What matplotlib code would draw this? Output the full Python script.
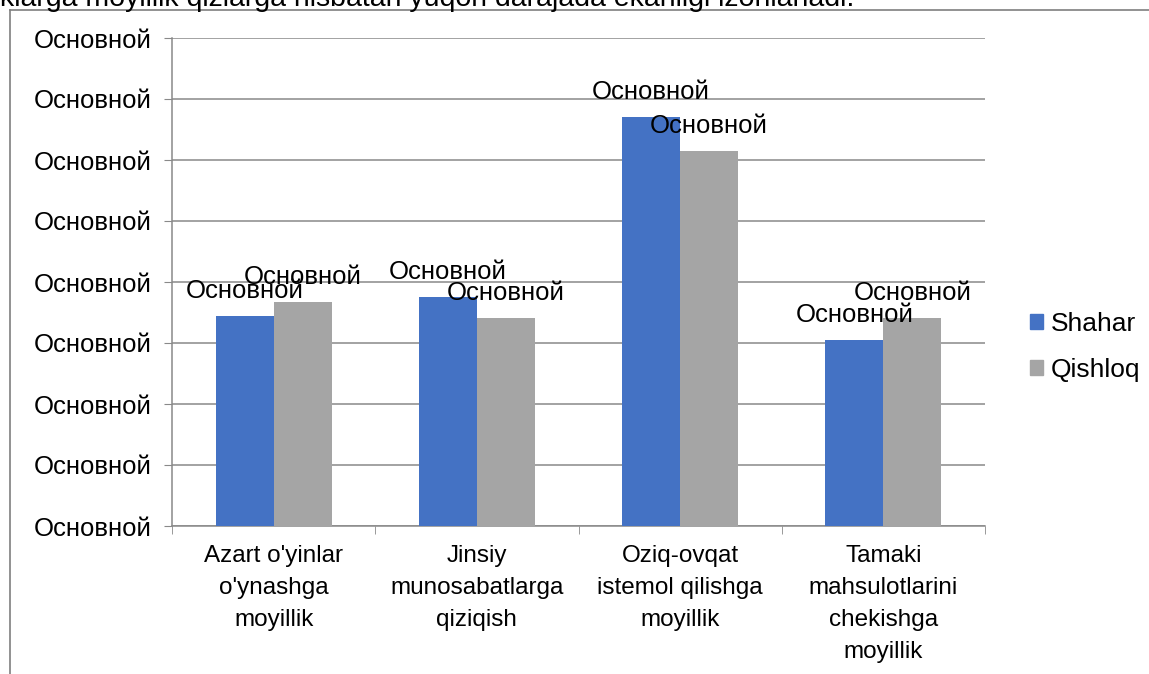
import matplotlib
matplotlib.use("Agg")
import matplotlib.pyplot as plt
from matplotlib.lines import Line2D
from matplotlib.patches import Patch
import numpy as np

plt.rcParams['font.family'] = ['Liberation Sans', 'DejaVu Sans']

categories = ["Azart o'yinlar\no'ynashga\nmoyillik",
              "Jinsiy\nmunosabatlarga\nqiziqish",
              "Oziq-ovqat\nistemol qilishga\nmoyillik",
              "Tamaki\nmahsulotlarini\nchekishga\nmoyillik"]
series_names = ["Shahar", "Qishloq"]
shahar = [3.44, 3.75, 6.70, 3.05]
qishloq = [3.67, 3.41, 6.15, 3.41]
y_ticks = [0, 1, 2, 3, 4, 5, 6, 7, 8]
label_text = "Основной"
top_text = "klarga moyillik qizlarga nisbatan yuqori darajada ekanligi izohlanadi."

blue = '#4472C4'
gray = '#A5A5A5'
grid_c = '#898989'

W, H = 1149, 674
fig = plt.figure(figsize=(W / 100, H / 100), dpi=100)

# cut-off sentence at the very top and the page frame
fig.text(0, 1.0 + 1 / H, top_text, fontsize=20.5, ha='left', va='center')
fig.add_artist(Line2D([10 / W, 1], [1 - 10 / H, 1 - 10 / H], color='#7f7f7f', lw=1.2))
fig.add_artist(Line2D([10 / W, 10 / W], [0, 1 - 10 / H], color='#7f7f7f', lw=1.2))

ax = fig.add_axes([172 / W, (H - 526) / H, (985 - 172) / W, (526 - 38) / H])

x = np.arange(len(categories))
bw = 58 / 203
b1 = ax.bar(x - bw / 2, shahar, bw, color=blue, zorder=3)
b2 = ax.bar(x + bw / 2, qishloq, bw, color=gray, zorder=3)

for bars in (b1, b2):
    for r in bars:
        ax.annotate(label_text, (r.get_x() + r.get_width() / 2, r.get_height()),
                    xytext=(0, 18), textcoords='offset points',
                    ha='center', va='center', fontsize=18.5, zorder=5)

ax.set_xlim(-0.5, len(categories) - 0.5)
ax.set_ylim(0, 8)
ax.set_yticks(y_ticks)
ax.set_yticklabels([label_text] * len(y_ticks), fontsize=18.5)
ax.yaxis.grid(True, color=grid_c, lw=1.1, zorder=0)
ax.tick_params(axis='y', length=6, color=grid_c, pad=9)

ax.set_xticks(x)
ax.set_xticklabels(categories, fontsize=17.5, linespacing=1.58)
ax.tick_params(axis='x', length=0, pad=14)
ax.set_xticks(np.arange(len(categories) + 1) - 0.5, minor=True)
ax.tick_params(axis='x', which='minor', length=6, color=grid_c)

for s in ['top', 'right']:
    ax.spines[s].set_visible(False)
for s in ['left', 'bottom']:
    ax.spines[s].set_color(grid_c)
    ax.spines[s].set_linewidth(1.1)

handles = [Patch(color=blue), Patch(color=gray)]
fig.legend(handles, series_names, loc='center left', bbox_to_anchor=(1006 / W, 1 - 347 / H),
           frameon=False, fontsize=19, handlelength=0.5, handleheight=0.5,
           handletextpad=0.3, labelspacing=0.85)

fig.savefig('out.png', dpi=100)
